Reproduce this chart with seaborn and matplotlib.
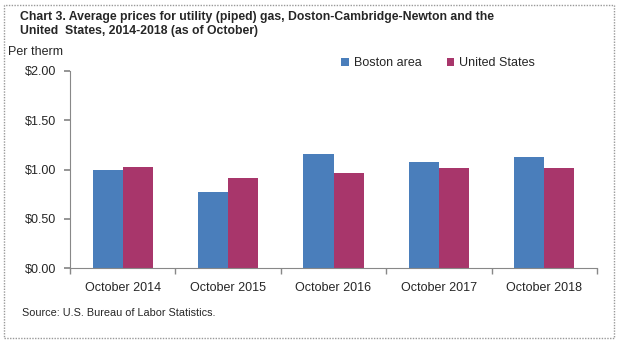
import matplotlib
matplotlib.use("Agg")
import matplotlib.pyplot as plt
import seaborn as sns
import pandas as pd
from matplotlib.patches import Rectangle

categories = ["October 2014", "October 2015", "October 2016", "October 2017", "October 2018"]
boston = [0.99, 0.77, 1.16, 1.08, 1.13]
us = [1.03, 0.91, 0.96, 1.02, 1.02]
series_names = ["Boston area", "United States"]
y_ticks = [0.0, 0.5, 1.0, 1.5, 2.0]
y_labels = ["$0.00", "$0.50", "$1.00", "$1.50", "$2.00"]

df = pd.DataFrame({
    "cat": categories * 2,
    "val": boston + us,
    "series": [series_names[0]] * len(categories) + [series_names[1]] * len(categories),
})

sns.set_theme(style="white")
plt.rcParams["font.family"] = ["Liberation Sans", "DejaVu Sans"]

fig = plt.figure(figsize=(6.27, 3.5), dpi=100)
ax = fig.add_axes([70 / 627, 1 - 268 / 350, (597 - 70) / 627, (268 - 71) / 350])

sns.barplot(data=df, x="cat", y="val", hue="series", order=categories,
            hue_order=series_names, palette=["#4A7EBB", "#A8366B"],
            width=0.57, saturation=1, ax=ax, errorbar=None, legend=True,
            linewidth=0)

ax.set_ylim(0, 2.0)
ax.set_xlim(-0.5, len(categories) - 0.5)
ax.set_yticks(y_ticks)
ax.set_yticklabels(y_labels, fontsize=9)
ax.set_xticks(range(len(categories)))
ax.set_xticklabels(categories, fontsize=9)
ax.set_xticks([i - 0.5 for i in range(len(categories) + 1)], minor=True)
ax.tick_params(axis="x", which="major", length=0, pad=10)
ax.tick_params(axis="x", which="minor", length=4, color="#888888", direction="out", bottom=True)
ax.tick_params(axis="y", length=4, color="#888888", direction="out", left=True, pad=6)
ax.set_xlabel("")
ax.set_ylabel("")
for s in ["top", "right"]:
    ax.spines[s].set_visible(False)
for s in ["left", "bottom"]:
    ax.spines[s].set_color("#888888")
    ax.spines[s].set_linewidth(0.8)

leg = ax.legend(loc="upper left", bbox_to_anchor=(330 / 627, 1 - 46 / 350),
                bbox_transform=fig.transFigure, ncol=2, frameon=False,
                fontsize=9, handlelength=0.6, handleheight=0.6, columnspacing=2.0,
                handletextpad=0.4)

fig.text(20 / 627, 1 - 11 / 350,
         "Chart 3. Average prices for utility (piped) gas, Doston-Cambridge-Newton and the\nUnited  States, 2014-2018 (as of October)",
         fontsize=8.8, fontweight="bold", va="top", ha="left", linespacing=1.2)
fig.text(8 / 627, 1 - 52 / 350, "Per therm", fontsize=9, va="center", ha="left")
fig.text(22 / 627, 1 - 313 / 350, "Source: U.S. Bureau of Labor Statistics.", fontsize=7.8, va="center", ha="left")

fig.patches.append(Rectangle((4 / 627, 1 - 338 / 350), (614 - 4) / 627, (338 - 5) / 350,
                             transform=fig.transFigure, fill=False, edgecolor="#999999",
                             linewidth=1.0, linestyle=(0, (1, 1))))

fig.savefig("out.png", dpi=100)
